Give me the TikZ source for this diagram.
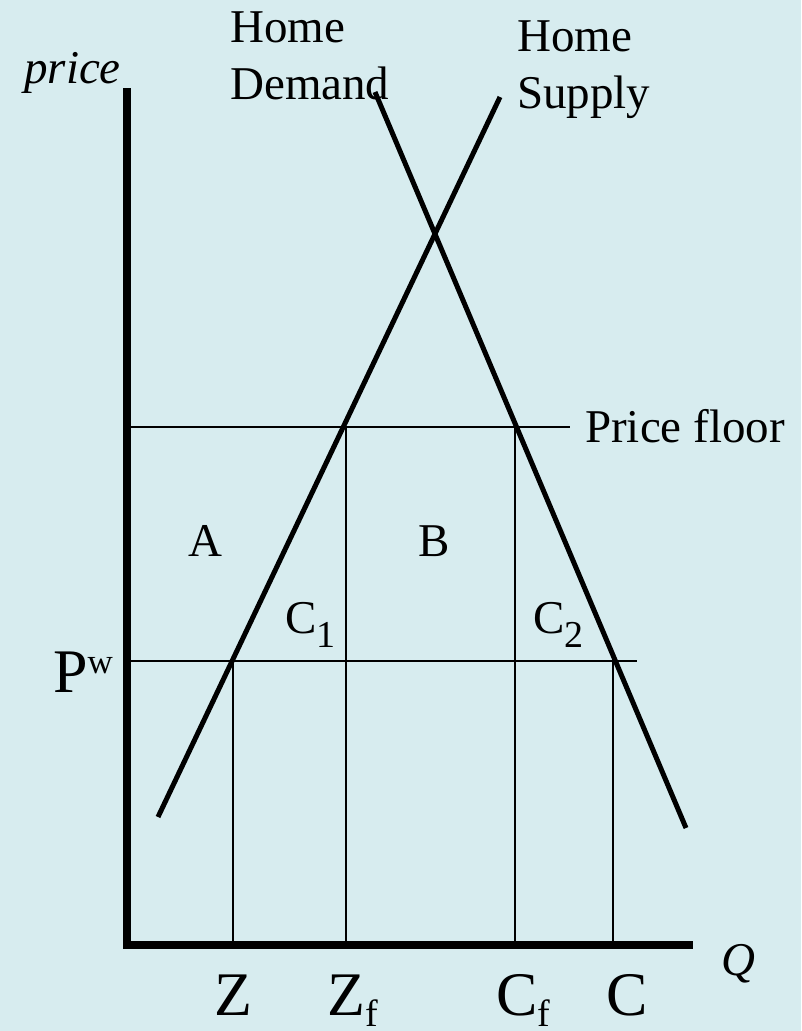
\documentclass[tikz,border=0pt]{standalone}
\usepackage{fontspec}
\setmainfont{Liberation Serif}
\usetikzlibrary{calc}
\definecolor{bgblue}{HTML}{D7ECEF}
\newcommand{\lowsub}[2][14pt]{\raisebox{-#1}{\fontsize{38}{38}\selectfont #2}}
\newcommand{\highsup}[1]{\raisebox{19pt}{\fontsize{35}{35}\selectfont #1}}

\begin{document}
\begin{tikzpicture}[x=1pt, y=-1pt,
  axis/.style={line width=8pt},
  curve/.style={line width=5pt},
  guide/.style={line width=1.6pt},
  lbl/.style={font=\fontsize{47}{55}\selectfont, inner sep=0pt},
  big/.style={font=\fontsize{62}{70}\selectfont, inner sep=0pt}]

  \fill[bgblue] (0,0) rectangle (801,1031);
  \useasboundingbox (0,0) rectangle (801,1031);

  % axes
  \coordinate (O) at (127, 945);
  \coordinate (Ytop) at (127, 88);
  \coordinate (Xend) at (693, 945);
  \draw[axis] (Ytop) -- (O.center) -- (Xend);

  % supply and demand
  \coordinate (S0) at (158, 817);
  \coordinate (S1) at (500, 97);
  \coordinate (D0) at (375, 92);
  \coordinate (D1) at (686, 828);
  \draw[curve] (S0) -- (S1);
  \draw[curve] (D0) -- (D1);

  % price levels
  \coordinate (PW0) at (127, 661);
  \coordinate (PW1) at (637, 661);
  \coordinate (PF0) at (127, 427);
  \coordinate (PF1) at (570, 427);
  \draw[guide] (PW0) -- (PW1);
  \draw[guide] (PF0) -- (PF1);

  % quantities
  \coordinate (Zt) at (233, 661);   \coordinate (Zb) at (233, 945);
  \coordinate (Zft) at (346, 427);  \coordinate (Zfb) at (346, 945);
  \coordinate (Cft) at (515, 427);  \coordinate (Cfb) at (515, 945);
  \coordinate (Ct) at (613, 661);   \coordinate (Cb) at (613, 945);
  \draw[guide] (Zt) -- (Zb);
  \draw[guide] (Zft) -- (Zfb);
  \draw[guide] (Cft) -- (Cfb);
  \draw[guide] (Ct) -- (Cb);

  % labels
  \node[lbl, anchor=base east] (price) at (121, 83) {\itshape price};
  \node[lbl, anchor=base west] (dhome) at (230, 42) {Home};
  \node[lbl, anchor=base west] (dname) at (230, 99) {Demand};
  \node[lbl, anchor=base west] (shome) at (517, 51) {Home};
  \node[lbl, anchor=base west] (sname) at (517, 108) {Supply};
  \node[lbl, anchor=base west] (floor) at (585, 442) {Price floor};
  \node[lbl] (A) at (205, 541) {A};
  \node[lbl] (B) at (434, 541) {B};
  \node[lbl, anchor=base west] (C1) at (285, 633) {C\lowsub{1}};
  \node[lbl, anchor=base west] (C2) at (533, 633) {C\lowsub{2}};
  \node[big, anchor=base west] (Pw) at (53, 692) {P\highsup{w}};
  \node[big, anchor=base west] (Z) at (214, 1015) {Z};
  \node[big, anchor=base west] (Zf) at (327, 1015) {Z\lowsub[11pt]{f}};
  \node[big, anchor=base west] (Cf) at (496, 1015) {C\lowsub[11pt]{f}};
  \node[big, anchor=base west] (C) at (606, 1015) {C};
  \node[lbl, anchor=base west] (Q) at (721, 975) {\itshape Q};
\end{tikzpicture}
\end{document}
